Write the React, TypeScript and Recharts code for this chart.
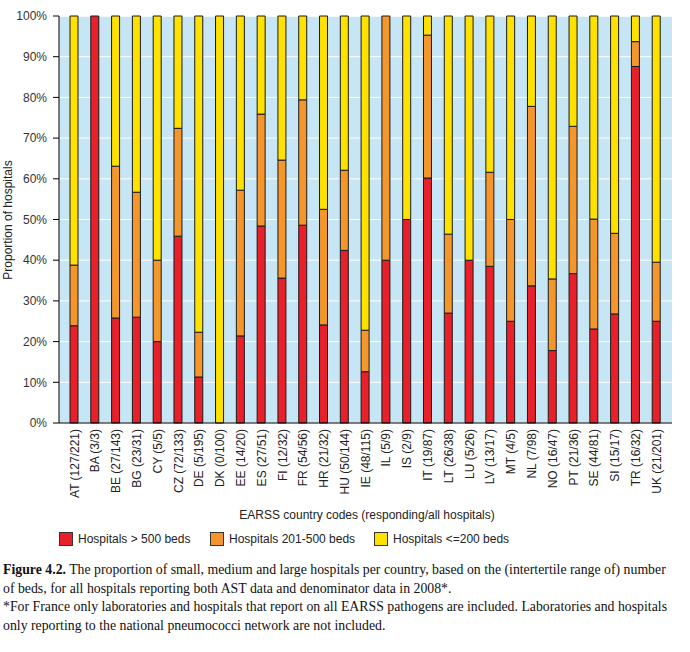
import React from 'react';
import { BarChart, Bar, XAxis, YAxis, CartesianGrid } from 'recharts';

// Countries with responding/all hospitals
const countries = [
  'AT (127/221)', 'BA (3/3)', 'BE (27/143)', 'BG (23/31)', 'CY (5/5)', 'CZ (72/133)',
  'DE (5/195)', 'DK (0/100)', 'EE (14/20)', 'ES (27/51)', 'FI (12/32)', 'FR (54/56)',
  'HR (21/32)', 'HU (50/144)', 'IE (48/115)', 'IL (5/9)', 'IS (2/9)', 'IT (19/87)',
  'LT (26/38)', 'LU (5/26)', 'LV (13/17)', 'MT (4/5)', 'NL (7/98)', 'NO (16/47)',
  'PT (21/36)', 'SE (44/81)', 'SI (15/17)', 'TR (16/32)', 'UK (21/201)',
];

// percentages per size group
const large = [
  23.9, 100, 25.8, 26.0, 20, 45.9, 11.3, 0, 21.4, 48.4, 35.6, 48.6, 24.1, 42.4, 12.6,
  40, 50, 60.2, 27.0, 40, 38.5, 25, 33.7, 17.8, 36.7, 23.1, 26.8, 87.6, 25,
];
const medium = [
  14.9, 0, 37.3, 30.7, 20, 26.5, 11.0, 0, 35.8, 27.5, 29.0, 30.8, 28.4, 19.7, 10.2,
  60, 0, 35.1, 19.4, 0, 23.1, 25, 44.1, 17.6, 36.2, 27.0, 19.8, 6.1, 14.5,
];
const small = [
  61.2, 0, 36.9, 43.3, 60, 27.6, 77.7, 100, 42.8, 24.1, 35.4, 20.6, 47.5, 37.9, 77.2,
  0, 50, 4.7, 53.6, 60, 38.4, 50, 22.2, 64.6, 27.1, 49.9, 53.4, 6.3, 60.5,
];

const yTicks = [0, 10, 20, 30, 40, 50, 60, 70, 80, 90, 100];

const series = [
  { key: 'large', name: 'Hospitals > 500 beds', color: '#E8202A' },
  { key: 'medium', name: 'Hospitals 201-500 beds', color: '#F4962B' },
  { key: 'small', name: 'Hospitals <=200 beds', color: '#FFE100' },
];

const data = countries.map((c, i) => ({
  name: c,
  large: large[i],
  medium: medium[i],
  small: small[i],
}));

const sans = '"Liberation Sans", Arial, sans-serif';
const serif = '"Liberation Serif", "Times New Roman", serif';

const XTick = (props: any) => {
  const { x, y, payload } = props;
  return (
    <text
      x={x}
      y={y}
      dy="0.35em"
      transform={`rotate(-90, ${x}, ${y})`}
      textAnchor="end"
      fontSize={12}
      fontFamily={sans}
      fill="#222"
    >
      {payload.value}
    </text>
  );
};

const legendPos = [59, 210, 374];

const App = () => {
  return (
    <div style={{ position: 'absolute', left: 0, top: 0, width: 690, height: 652, background: '#fff' }}>
      <BarChart
        width={690}
        height={530}
        data={data}
        margin={{ top: 16, right: 18, left: 0, bottom: 0 }}
      >
        <CartesianGrid
          vertical={false}
          stroke="#ffffff"
          strokeWidth={1}
          fill="#C6E6F6"
          fillOpacity={1}
        />
        <XAxis
          dataKey="name"
          interval={0}
          height={107}
          padding={{ left: 5, right: 5 }}
          tick={<XTick />}
          tickLine={false}
          tickSize={4}
          tickMargin={2}
          axisLine={{ stroke: '#000' }}
        />
        <XAxis
          xAxisId="top"
          dataKey="name"
          orientation="top"
          height={0}
          tick={false}
          tickLine={false}
          axisLine={{ stroke: '#000' }}
        />
        <YAxis
          domain={[0, 100]}
          ticks={yTicks}
          width={59}
          tickSize={6}
          tickMargin={6}
          tickFormatter={(v) => `${v}%`}
          tick={{ fontSize: 12, fontFamily: sans, fill: '#333' }}
          tickLine={{ stroke: '#000' }}
          axisLine={{ stroke: '#000' }}
          interval={0}
        />
        <YAxis
          yAxisId="right"
          orientation="right"
          domain={[0, 100]}
          width={0}
          tick={false}
          tickLine={false}
          axisLine={{ stroke: '#000' }}
        />
        {series.map((s) => (
          <Bar
            key={s.key}
            dataKey={s.key}
            name={s.name}
            stackId="a"
            fill={s.color}
            stroke="#1a1a1a"
            strokeWidth={1}
            barSize={8}
            isAnimationActive={false}
          />
        ))}
      </BarChart>

      <div
        style={{
          position: 'absolute',
          left: 8,
          top: 220,
          transform: 'translate(-50%, -50%) rotate(-90deg)',
          whiteSpace: 'nowrap',
          fontFamily: sans,
          fontSize: 12,
          color: '#222',
        }}
      >
        Proportion of hospitals
      </div>

      <div
        style={{
          position: 'absolute',
          left: 367,
          top: 515,
          transform: 'translate(-50%, -50%)',
          whiteSpace: 'nowrap',
          fontFamily: sans,
          fontSize: 12,
          color: '#222',
        }}
      >
        EARSS country codes (responding/all hospitals)
      </div>

      {series.map((s, i) => (
        <div
          key={s.key}
          style={{
            position: 'absolute',
            left: legendPos[i],
            top: 532,
            height: 14,
            display: 'flex',
            alignItems: 'center',
            whiteSpace: 'nowrap',
            fontFamily: sans,
            fontSize: 12,
            color: '#222',
          }}
        >
          <span
            style={{
              display: 'inline-block',
              width: 12,
              height: 12,
              background: s.color,
              border: '1px solid #333',
              marginRight: 5,
            }}
          />
          {s.name}
        </div>
      ))}

      <div
        style={{
          position: 'absolute',
          left: 3,
          top: 561,
          fontFamily: serif,
          fontSize: 13.8,
          lineHeight: '18.5px',
          color: '#111',
          whiteSpace: 'nowrap',
        }}
      >
        <b>Figure 4.2.</b> The proportion of small, medium and large hospitals per country, based on the (intertertile range of) number
        <br />
        of beds, for all hospitals reporting both AST data and denominator data in 2008*.
        <br />
        *For France only laboratories and hospitals that report on all EARSS pathogens are included. Laboratories and hospitals
        <br />
        only reporting to the national pneumococci network are not included.
      </div>
    </div>
  );
};

export default App;
